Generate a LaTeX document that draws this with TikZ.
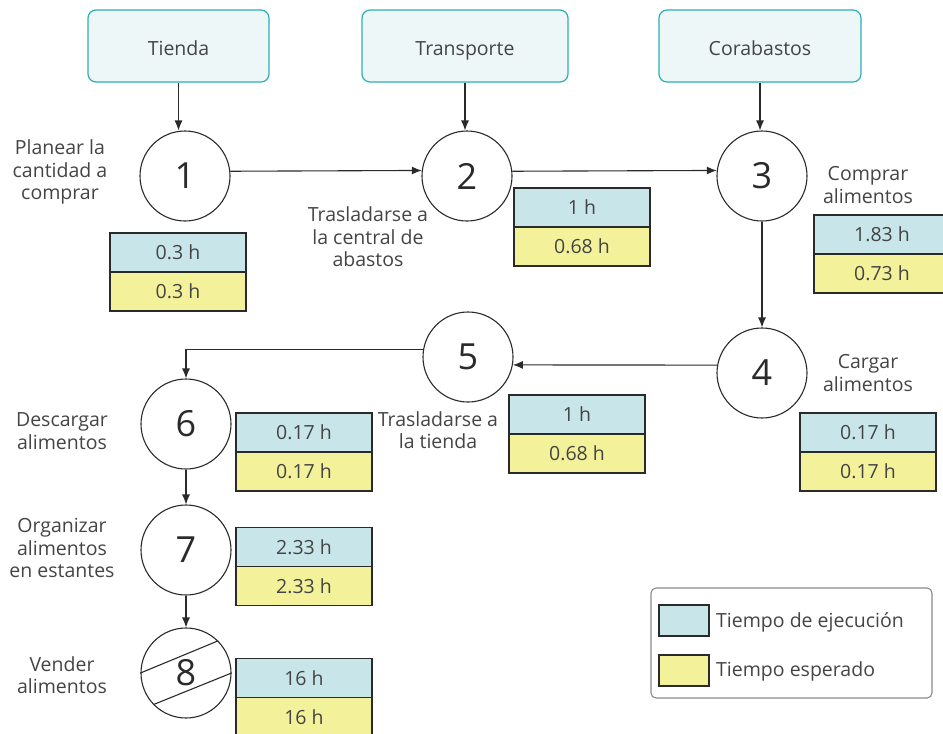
\documentclass[tikz,border=0pt]{standalone}
\usepackage{fontspec}
\setmainfont{Open Sans}
\usetikzlibrary{arrows.meta}
\definecolor{tealb}{HTML}{2BB0B5}
\definecolor{topfill}{HTML}{EEF7F8}
\definecolor{cblue}{HTML}{C8E6EA}
\definecolor{cyellow}{HTML}{F3F29B}
\definecolor{txtc}{HTML}{444444}
\definecolor{linec}{HTML}{2A2A2A}
\definecolor{legb}{HTML}{8A8A8A}
\begin{document}
\begin{tikzpicture}[x=1pt,y=-1pt,
  topbox/.style={draw=tealb, fill=topfill, rounded corners=8pt, line width=1.2pt,
    minimum width=181pt, minimum height=72pt, inner sep=0pt, text=txtc,
    text height=19pt, text depth=0pt,
    font=\fontsize{19.5}{22}\selectfont},
  circ/.style={circle, draw=linec, line width=1.1pt, minimum size=90pt, inner sep=0pt,
    text=linec, font=\fontsize{36}{40}\selectfont},
  lbl/.style={align=center, inner sep=0pt, text=txtc, font=\fontsize{19.5}{22.5}\selectfont},
  tb/.style={draw=linec, line width=1.1pt, fill=cblue, minimum width=136pt,
    minimum height=39pt, inner sep=0pt, text=txtc, font=\fontsize{19.5}{21}\selectfont},
  ty/.style={tb, fill=cyellow},
  arr/.style={-{Latex[length=10pt,width=8pt]}, line width=1.1pt, draw=linec},
  sw/.style={draw=linec, line width=1.1pt, minimum width=50pt, minimum height=31pt, inner sep=0pt}
]
\useasboundingbox (0,0) rectangle (943,734);
\clip (0,0) rectangle (943,734);

% top boxes
\node[topbox] (tienda) at (178.5,46) {Tienda};
\node[topbox, minimum width=206pt] (transp) at (465,46) {Transporte};
\node[topbox, minimum width=202pt] (cora) at (760,46) {Corabastos};

% circles
\node[circ] (c1) at (185,176) {1};
\node[circ] (c2) at (467,176) {2};
\node[circ] (c3) at (762,176) {3};
\node[circ] (c4) at (762,373) {4};
\node[circ] (c5) at (468,357) {5};
\node[circ] (c6) at (186,424) {6};
\node[circ] (c7) at (186,550) {7};
\node[circ] (c8) at (186,673) {8};
\draw[line width=1.1pt, draw=linec] (c8.180) -- (c8.45);
\draw[line width=1.1pt, draw=linec] (c8.224) -- (c8.0);

% connectors
\draw[arr] (tienda.south) -- (tienda.south |- c1.north);
\draw[arr] (transp.south) -- (transp.south |- c2.north);
\draw[arr] (cora.south) -- (cora.south |- c3.north);
\draw[arr] (c1.6.4) -- (c2.173.6);
\draw[arr] (c2.6.4) -- (c3.173.6);
\draw[arr] (c3.south) -- (c4.north);
\draw[arr] (c4.170) -- (c5.350);
\draw[arr] (c5.170) -| (c6.north);
\draw[arr] (c6.south) -- (c7.north);
\draw[arr] (c7.south) -- (c8.north);

% time boxes
\node[tb] (t1a) at (178,252.5) {0.3 h};
\node[ty] (t1b) at (178,291.5) {0.3 h};
\node[tb] (t2a) at (582,207.5) {1 h};
\node[ty] (t2b) at (582,246.5) {0.68 h};
\node[tb] (t3a) at (882,234.5) {1.83 h};
\node[ty] (t3b) at (882,273.5) {0.73 h};
\node[tb] (t4a) at (868,432.5) {0.17 h};
\node[ty] (t4b) at (868,471.5) {0.17 h};
\node[tb] (t5a) at (577,414.5) {1 h};
\node[ty] (t5b) at (577,453.5) {0.68 h};
\node[tb] (t6a) at (304,432.5) {0.17 h};
\node[ty] (t6b) at (304,471.5) {0.17 h};
\node[tb] (t7a) at (304,547) {2.33 h};
\node[ty] (t7b) at (304,586) {2.33 h};
\node[tb] (t8a) at (304,678) {16 h};
\node[ty] (t8b) at (304,717) {16 h};

% labels
\node[lbl] (l1) at (60,172) {Planear la\\cantidad a\\comprar};
\node[lbl] (l2) at (368,237) {Trasladarse a\\la central de\\abastos};
\node[lbl] (l3) at (868,185) {Comprar\\alimentos};
\node[lbl] (l4) at (868,373) {Cargar\\alimentos};
\node[lbl] (l5) at (438,430) {Trasladarse a\\la tienda};
\node[lbl] (l6) at (62,431) {Descargar\\alimentos};
\node[lbl] (l7) at (62,548) {Organizar\\alimentos\\en estantes};
\node[lbl] (l8) at (62,675) {Vender\\alimentos};

% legend
\node[draw=legb, line width=1.1pt, rounded corners=5pt, minimum width=281pt,
  minimum height=110pt, inner sep=0pt] (leg) at (791.5,643) {};
\node[sw, fill=cblue] (swb) at (684,620.5) {};
\node[sw, fill=cyellow] (swy) at (684,670.5) {};
\node[lbl, anchor=west] (lgb) at (716,622) {Tiempo de ejecución};
\node[lbl, anchor=west] (lgy) at (716,671) {Tiempo esperado};
\end{tikzpicture}
\end{document}
